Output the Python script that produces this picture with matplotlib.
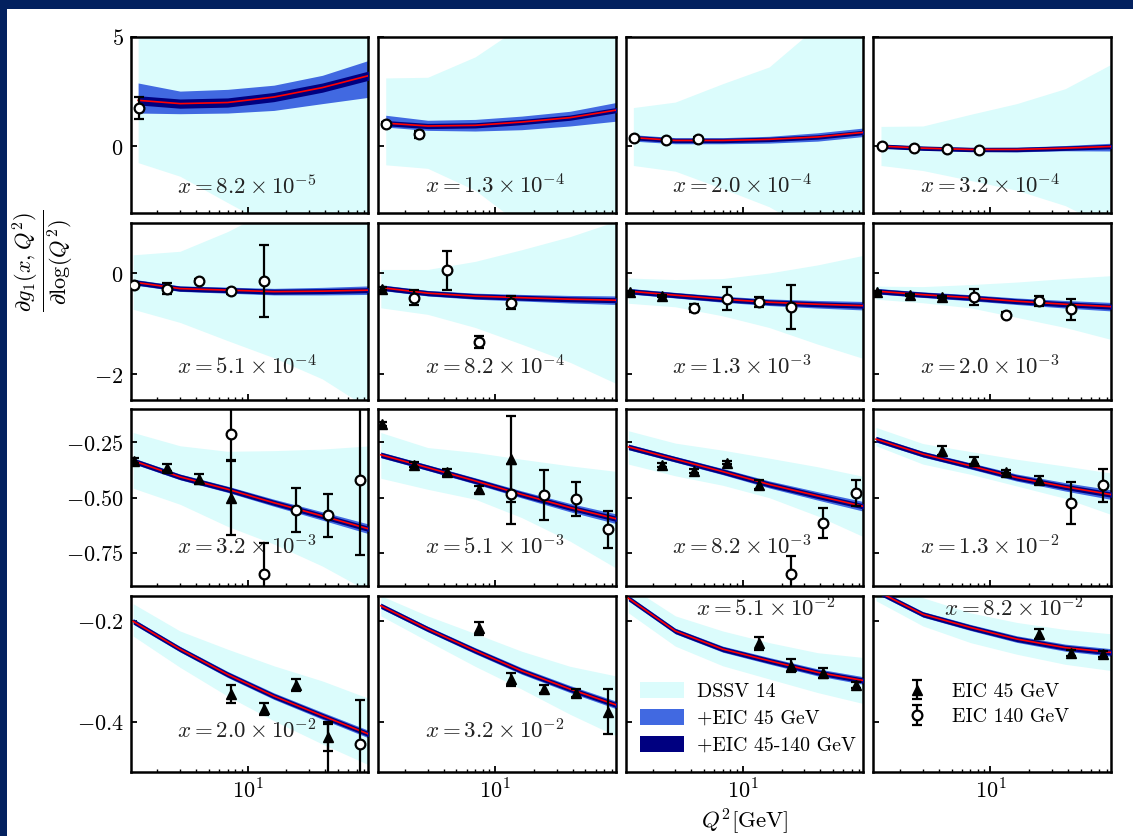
# dg1/dlogQ2 panels: DSSV14 band vs EIC impact
import numpy as np
import matplotlib
matplotlib.use('Agg')
import matplotlib.pyplot as plt
from matplotlib.patches import Patch, Rectangle
from matplotlib.ticker import MultipleLocator, FuncFormatter, LogLocator, NullFormatter

plt.rcParams['mathtext.fontset'] = 'cm'
plt.rcParams['font.family'] = ['DejaVu Serif']

# x values of the 16 panels
x_labels = [r'8.2 \times 10^{-5}', r'1.3 \times 10^{-4}', r'2.0 \times 10^{-4}', r'3.2 \times 10^{-4}',
            r'5.1 \times 10^{-4}', r'8.2 \times 10^{-4}', r'1.3 \times 10^{-3}', r'2.0 \times 10^{-3}',
            r'3.2 \times 10^{-3}', r'5.1 \times 10^{-3}', r'8.2 \times 10^{-3}', r'1.3 \times 10^{-2}',
            r'2.0 \times 10^{-2}', r'3.2 \times 10^{-2}', r'5.1 \times 10^{-2}', r'8.2 \times 10^{-2}']

# Q2 nodes of the theory curves
q2_curve = [1.3, 3, 7, 16, 38, 90]
q2_curve_top = [1.42, 3, 7, 16, 38, 90]

central = [
    [2.1, 1.95, 2.0, 2.25, 2.68, 3.25],
    [1.06, 0.93, 0.96, 1.11, 1.31, 1.67],
    [0.4, 0.27, 0.27, 0.32, 0.43, 0.65],
    [0.01, -0.08, -0.14, -0.14, -0.08, 0.0],
    [-0.17, -0.3, -0.33, -0.36, -0.35, -0.33],
    [-0.28, -0.39, -0.45, -0.48, -0.51, -0.53],
    [-0.35, -0.43, -0.51, -0.57, -0.61, -0.64],
    [-0.35, -0.42, -0.48, -0.55, -0.61, -0.66],
    [-0.333, -0.406, -0.462, -0.523, -0.583, -0.644],
    [-0.306, -0.364, -0.424, -0.485, -0.545, -0.598],
    [-0.27, -0.326, -0.382, -0.44, -0.492, -0.542],
    [-0.235, -0.303, -0.356, -0.409, -0.451, -0.488],
    [-0.201, -0.256, -0.306, -0.349, -0.388, -0.426],
    [-0.17, -0.216, -0.259, -0.299, -0.335, -0.368],
    [-0.155, -0.22, -0.256, -0.279, -0.302, -0.319],
    [-0.14, -0.187, -0.213, -0.236, -0.253, -0.263],
]

# +EIC 45 GeV band, offsets above / below the central curve
b2 = [0.055, 0.055, 0.06, 0.065, 0.075, 0.085]
b3 = [0.013, 0.013, 0.014, 0.016, 0.019, 0.022]
b4 = [0.0055, 0.0055, 0.006, 0.0065, 0.007, 0.0075]
blue_up = [
    [0.79, 0.57, 0.6, 0.54, 0.56, 0.7],
    [0.36, 0.26, 0.27, 0.27, 0.29, 0.35],
    [0.13, 0.13, 0.13, 0.14, 0.19, 0.2],
    [0.09, 0.08, 0.09, 0.1, 0.12, 0.15],
    b2, b2, b2, b2, b3, b3, b3, b3, b4, b4, b4, b4,
]
blue_dn = [
    [0.58, 0.46, 0.48, 0.61, 0.73, 1.0],
    [0.18, 0.2, 0.26, 0.35, 0.38, 0.51],
    [0.16, 0.15, 0.15, 0.17, 0.19, 0.19],
    [0.08, 0.08, 0.09, 0.11, 0.12, 0.21],
    b2, b2, b2, b2, b3, b3, b3, b3, b4, b4, b4, b4,
]
# +EIC 45-140 GeV band half width
navy_half = [0.21, 0.12, 0.1, 0.1,
             0.05, 0.05, 0.05, 0.05,
             0.012, 0.012, 0.012, 0.012,
             0.005, 0.005, 0.005, 0.005]

# DSSV 14 band
cyan_lo = [
    [-0.74, -1.36, -2.56, -3.7, -5, -6.5],
    [-0.84, -1.0, -2.0, -3.6, -5, -7],
    [-0.87, -1.13, -1.93, -2.75, -4, -5.5],
    [-0.87, -1.1, -1.55, -2.0, -2.7, -3.8],
    [-0.71, -0.97, -1.33, -1.67, -2.09, -2.7],
    [-0.68, -0.81, -1.07, -1.4, -1.76, -2.2],
    [-0.59, -0.66, -0.84, -1.07, -1.4, -1.7],
    [-0.51, -0.58, -0.68, -0.87, -1.07, -1.32],
    [-0.457, -0.53, -0.63, -0.71, -0.81, -0.93],
    [-0.412, -0.462, -0.507, -0.59, -0.697, -0.825],
    [-0.348, -0.401, -0.444, -0.5, -0.583, -0.682],
    [-0.265, -0.348, -0.394, -0.447, -0.503, -0.58],
    [-0.23, -0.292, -0.349, -0.398, -0.444, -0.487],
    [-0.19, -0.24, -0.29, -0.335, -0.385, -0.43],
    [-0.184, -0.25, -0.289, -0.315, -0.342, -0.365],
    [-0.16, -0.21, -0.243, -0.266, -0.286, -0.299],
]
cyan_hi = [
    [6, 6, 6, 6, 6, 6],
    [3.12, 3.15, 4.08, 5.5, 7, 9],
    [1.77, 2.02, 2.86, 3.62, 5.5, 7],
    [0.91, 0.93, 1.46, 1.95, 2.63, 3.8],
    [0.37, 0.44, 0.83, 1.3, 1.8, 2.5],
    [0.08, 0.08, 0.24, 0.47, 0.73, 1.05],
    [-0.09, -0.12, -0.1, 0.01, 0.17, 0.37],
    [-0.25, -0.26, -0.22, -0.17, -0.1, -0.04],
    [-0.205, -0.265, -0.29, -0.287, -0.28, -0.265],
    [-0.205, -0.273, -0.295, -0.326, -0.356, -0.382],
    [-0.197, -0.253, -0.285, -0.321, -0.36, -0.406],
    [-0.182, -0.255, -0.291, -0.326, -0.357, -0.39],
    [-0.166, -0.22, -0.256, -0.289, -0.319, -0.355],
    [-0.15, -0.19, -0.225, -0.26, -0.29, -0.31],
    [-0.13, -0.19, -0.22, -0.243, -0.263, -0.273],
    [-0.11, -0.154, -0.184, -0.203, -0.217, -0.226],
]

# pseudo data, EIC 45 GeV (triangles)
e45_q2 = [[], [], [], [],
          [], [1.33], [1.33, 2.37], [1.33, 2.37, 4.22],
          [1.33, 2.37, 4.22, 7.5], [1.33, 2.37, 4.22, 7.5, 13.3], [2.37, 4.22, 7.5, 13.3], [4.22, 7.5, 13.3, 23.7],
          [7.5, 13.3, 23.7, 42.2], [7.5, 13.3, 23.7, 42.2, 75], [13.3, 23.7, 42.2, 75], [23.7, 42.2, 75]]
e45_y = [[], [], [], [],
         [], [-0.3], [-0.37, -0.45], [-0.37, -0.42, -0.47],
         [-0.333, -0.364, -0.414, -0.5], [-0.166, -0.351, -0.386, -0.462, -0.326],
         [-0.351, -0.379, -0.341, -0.442], [-0.288, -0.333, -0.382, -0.42],
         [-0.345, -0.375, -0.327, -0.431], [-0.215, -0.316, -0.335, -0.342, -0.38],
         [-0.244, -0.289, -0.304, -0.327], [-0.226, -0.263, -0.265]]
e45_err = [[], [], [], [],
           [], [0.03], [0.02, 0.02], [0.02, 0.02, 0.02],
           [0.012, 0.016, 0.022, 0.17], [0.008, 0.012, 0.015, 0.015, 0.195],
           [0.008, 0.008, 0.008, 0.02], [0.02, 0.015, 0.008, 0.02],
           [0.018, 0.012, 0.012, 0.027], [0.012, 0.012, 0.008, 0.008, 0.045],
           [0.013, 0.013, 0.01, 0.006], [0.01, 0.006, 0.006]]

# pseudo data, EIC 140 GeV (open circles)
e140_q2 = [[1.43], [1.43, 2.55], [1.43, 2.55, 4.5], [1.45, 2.55, 4.6, 8.1],
           [1.33, 2.37, 4.22, 7.5, 13.3], [2.37, 4.22, 7.5, 13.3], [4.22, 7.5, 13.3, 23.7], [7.5, 13.3, 23.7, 42.2],
           [7.5, 13.3, 23.7, 42.2, 75], [13.3, 23.7, 42.2, 75], [23.7, 42.2, 75], [42.2, 75],
           [42.2, 75], [], [], []]
e140_y = [[1.75], [1.04, 0.55], [0.4, 0.31, 0.35], [0.01, -0.08, -0.14, -0.18],
          [-0.23, -0.3, -0.14, -0.35, -0.15], [-0.48, 0.06, -1.35, -0.58],
          [-0.69, -0.5, -0.56, -0.66], [-0.47, -0.82, -0.55, -0.71],
          [-0.212, -0.844, -0.557, -0.58, -0.421], [-0.485, -0.488, -0.507, -0.644],
          [-0.845, -0.614, -0.48], [-0.526, -0.444],
          [-0.55, -0.444], [], [], []]
e140_err = [[0.5], [0.08, 0.15], [0.05, 0.05, 0.08], [0.03, 0.03, 0.03, 0.03],
            [0.05, 0.11, 0.03, 0.05, 0.72], [0.15, 0.38, 0.12, 0.13],
            [0.08, 0.23, 0.1, 0.44], [0.16, 0.05, 0.1, 0.21],
            [0.12, 0.14, 0.1, 0.098, 0.34], [0.136, 0.112, 0.076, 0.083],
            [0.08, 0.067, 0.06], [0.095, 0.076],
            [0.15, 0.088], [], [], []]

row_ylim = [(-3.05, 5), (-2.5, 1.0), (-0.9, -0.1), (-0.5, -0.15)]
row_step = [5, 2, 0.25, 0.2]
row_fmt = ['%d', '%d', '%.2f', '%.1f']
label_y = [0.15, 0.18, 0.22, 0.23]

cyan = '#dbfcfc'

fig, axes = plt.subplots(4, 4, figsize=(11.33, 8.36), dpi=100, sharex=True, sharey='row')
fig.subplots_adjust(left=0.1152, right=0.9806, top=0.9561, bottom=0.0762, wspace=0.042, hspace=0.055)

h45 = h140 = None
for i, ax in enumerate(axes.flat):
    r, c = divmod(i, 4)
    q = q2_curve_top if r == 0 else q2_curve
    cen = np.array(central[i])
    ax.fill_between(q, cyan_lo[i], cyan_hi[i], color=cyan, lw=0, zorder=1)
    ax.fill_between(q, cen - np.array(blue_dn[i]), cen + np.array(blue_up[i]),
                    color='royalblue', lw=0, zorder=2)
    ax.fill_between(q, cen - navy_half[i], cen + navy_half[i], color='navy', lw=0, zorder=3)
    ax.plot(q, cen, color='red', lw=1.2, zorder=4)

    if e45_q2[i]:
        h45 = ax.errorbar(e45_q2[i], e45_y[i], yerr=e45_err[i], fmt='^', color='k', ms=7.5,
                          capsize=3.5, elinewidth=1.6, capthick=1.6, zorder=6)
    if e140_q2[i]:
        h140 = ax.errorbar(e140_q2[i], e140_y[i], yerr=e140_err[i], fmt='o', mfc='white', mec='k',
                           mew=1.6, ms=7, ecolor='k', capsize=3.5, elinewidth=1.6, capthick=1.6, zorder=6)

    if i in (14, 15):
        ax.text(0.59, 0.92, '$x = %s$' % x_labels[i], transform=ax.transAxes, ha='center', va='center',
                fontsize=16.5, color='#222222', zorder=2.5)
    else:
        ax.text(0.49, label_y[r], '$x = %s$' % x_labels[i], transform=ax.transAxes, ha='center', va='center',
                fontsize=16.5, color='#222222', zorder=2.5)

    ax.set_xscale('log')
    ax.set_xlim(1.24, 86)
    ax.set_ylim(*row_ylim[r])
    ax.yaxis.set_major_locator(MultipleLocator(row_step[r]))
    ax.yaxis.set_major_formatter(FuncFormatter(lambda v, p, f=row_fmt[r]: '$' + (f % v) + '$'))
    ax.xaxis.set_major_locator(LogLocator(base=10))
    ax.xaxis.set_minor_locator(LogLocator(base=10, subs=np.arange(2, 10)))
    ax.xaxis.set_major_formatter(FuncFormatter(lambda v, p: r'$10^{%d}$' % round(np.log10(v))))
    ax.xaxis.set_minor_formatter(NullFormatter())
    ax.tick_params(which='both', direction='in', top=False, right=False)
    ax.tick_params(which='major', length=4.5, width=1.3, labelsize=16, pad=5)
    ax.tick_params(which='minor', length=2.5, width=1.0)
    for s in ax.spines.values():
        s.set_linewidth(1.8)

# legends
ax = axes[3, 2]
patches = [Patch(facecolor=cyan), Patch(facecolor='royalblue'), Patch(facecolor='navy')]
ax.legend(patches, ['DSSV 14', '+EIC 45 GeV', '+EIC 45-140 GeV'], loc='lower left',
          bbox_to_anchor=(0.06, 0.1), frameon=False, borderaxespad=0, borderpad=0,
          handlelength=2.2, handleheight=0.85, handletextpad=0.65, labelspacing=0.4,
          prop={'family': 'cmr10', 'size': 14.3})
ax.set_xlabel(r'$Q^2[\mathrm{GeV}]$', fontsize=16.5, labelpad=3)

axes[3, 3].legend([h45, h140], ['EIC 45 GeV', 'EIC 140 GeV'], loc='lower left',
                  bbox_to_anchor=(0.14, 0.26), frameon=False, borderaxespad=0, borderpad=0,
                  handlelength=1.0, handletextpad=1.3, labelspacing=0.4,
                  prop={'family': 'cmr10', 'size': 14.3})

fig.text(43 / 1133, 1 - 261 / 836, r'$\frac{\partial g_1(x,Q^2)}{\partial \log(Q^2)}$',
         rotation=90, ha='center', va='center', fontsize=23)

# slide frame
fig.add_artist(Rectangle((0, 1 - 9 / 836), 1, 9 / 836, transform=fig.transFigure, color='#03215f', lw=0))
fig.add_artist(Rectangle((0, 0), 7 / 1133, 1, transform=fig.transFigure, color='#03215f', lw=0))

fig.savefig('out.png', dpi=100)
